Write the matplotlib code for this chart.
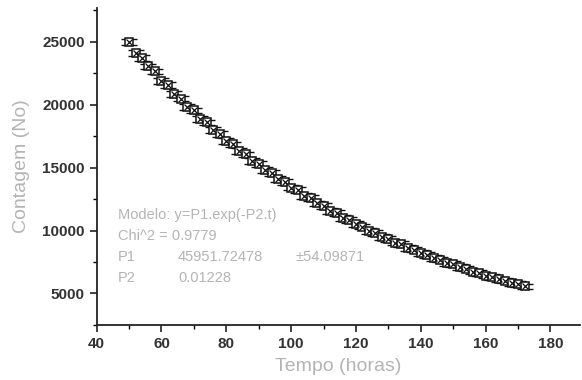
import matplotlib
matplotlib.use("Agg")
import matplotlib.pyplot as plt
from matplotlib.ticker import MultipleLocator

# --- data ---
tempo = [50, 52, 54, 56, 58, 60, 62, 64, 66, 68, 70, 72, 74, 76, 78, 80,
         82, 84, 86, 88, 90, 92, 94, 96, 98, 100, 102, 104, 106, 108, 110,
         112, 114, 116, 118, 120, 122, 124, 126, 128, 130, 132, 134, 136,
         138, 140, 142, 144, 146, 148, 150, 152, 154, 156, 158, 160, 162,
         164, 166, 168, 170, 172]
contagem = [25020, 24150, 23750, 23050, 22650, 21900, 21550, 20850, 20500,
            19850, 19550, 18900, 18600, 18000, 17700, 17150, 16850, 16300,
            16050, 15550, 15300, 14800, 14550, 14100, 13850, 13420, 13200,
            12780, 12560, 12160, 11950, 11580, 11380, 11020, 10840, 10500,
            10320, 9990, 9830, 9510, 9360, 9050, 8910, 8620, 8490, 8210,
            8080, 7810, 7700, 7440, 7330, 7080, 6980, 6740, 6650, 6420,
            6330, 6110, 6030, 5820, 5740, 5560]
erro = 230

xticks = [40, 60, 80, 100, 120, 140, 160, 180]
yticks = [5000, 10000, 15000, 20000, 25000]

info_lines = ["Modelo: y=P1.exp(-P2.t)", "Chi^2 = 0.9779", "P1", "P2"]
info_vals = ["", "", "45951.72478", "0.01228"]
info_err = ["", "", "\u00b154.09871", ""]

plt.rcParams['font.family'] = ['Liberation Sans', 'DejaVu Sans']
fig = plt.figure(figsize=(5.82, 3.80), dpi=100)
ax = fig.add_axes([0.166, 0.145, 0.83, 0.834])

ax.errorbar(tempo, contagem, yerr=erro, fmt='none', ecolor='#111111',
            elinewidth=0.9, capsize=5.5, capthick=1.0, zorder=2)
ax.plot(tempo, contagem, linestyle='none', marker='s', markersize=6,
        markerfacecolor='white', markeredgecolor='#111111', markeredgewidth=1.1,
        zorder=3)
ax.plot(tempo, contagem, linestyle='none', marker='x', markersize=4,
        markeredgecolor='#111111', markeredgewidth=0.9, zorder=4)

ax.set_xlim(40, 189)
ax.set_ylim(2500, 27700)
ax.set_xticks(xticks)
ax.set_yticks(yticks)
ax.xaxis.set_minor_locator(MultipleLocator(10))
ax.yaxis.set_minor_locator(MultipleLocator(2500))
ax.tick_params(axis='both', which='major', direction='out', length=5,
               width=1.2, labelsize=11, colors='#222222')
ax.tick_params(axis='both', which='minor', direction='out', length=3, width=1.0)
for lab in ax.get_xticklabels() + ax.get_yticklabels():
    lab.set_fontweight('bold')
    lab.set_color('#333333')

for s in ['top', 'right']:
    ax.spines[s].set_visible(False)
for s in ['left', 'bottom']:
    ax.spines[s].set_linewidth(1.3)
    ax.spines[s].set_color('#222222')

gray = '#b4b4b4'
ax.set_xlabel('Tempo (horas)', color=gray, fontsize=14, labelpad=5)
ax.set_ylabel('Contagem (No)', color=gray, fontsize=14, labelpad=9)

y0 = 215
for i, (a, b, c) in enumerate(zip(info_lines, info_vals, info_err)):
    ypix = y0 + i * 21
    yf = 1 - ypix / 380
    fig.text(118 / 582, yf, a, color=gray, fontsize=10.5, va='center')
    if b:
        fig.text(178 / 582, yf, b, color=gray, fontsize=10.5, va='center')
    if c:
        fig.text(296 / 582, yf, c, color=gray, fontsize=10.5, va='center')

fig.savefig('out.png', dpi=100)
